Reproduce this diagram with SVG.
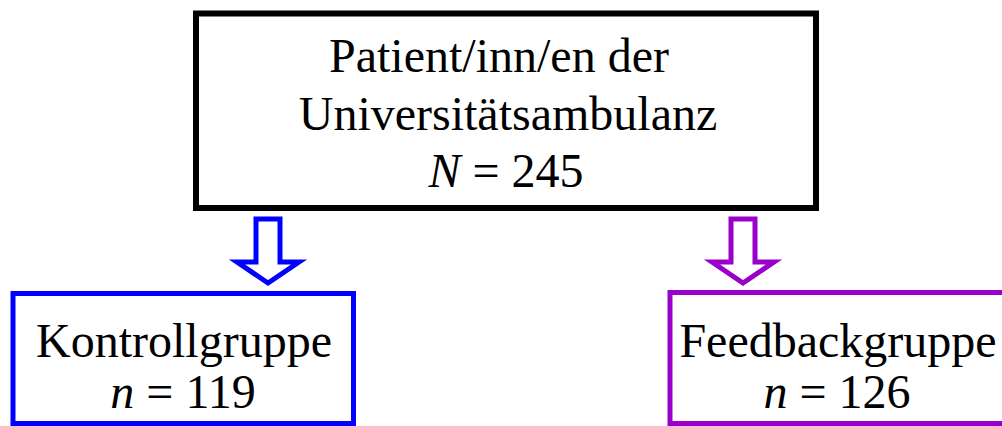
<svg xmlns="http://www.w3.org/2000/svg" width="1002" height="426" viewBox="0 0 1002 426">
<style>
.t{font-family:"Liberation Serif","Times New Roman",serif;font-size:48px;fill:#000;text-anchor:middle}
.i{font-style:italic}
.box{fill:#fff}
</style>
<rect width="1002" height="426" fill="#fff"/>
<g id="connectors">
<path d="M256,219 L280,219 L280,262 L299,262 L268,283 L237,262 L256,262 Z" fill="#fff" stroke="#0000ff" stroke-width="5" stroke-linejoin="miter"/>
<path d="M731,219 L755,219 L755,262 L774,262 L743,283 L712,262 L731,262 Z" fill="#fff" stroke="#9900cc" stroke-width="5" stroke-linejoin="miter"/>
</g>
<g id="node-patients">
<rect class="box" x="196" y="13.5" width="620" height="194.5" stroke="#000" stroke-width="6"/>
<text class="t" x="499" y="72">Patient/inn/en der</text>
<text class="t" x="508" y="130">Universitätsambulanz</text>
<text class="t" x="506" y="187"><tspan class="i">N</tspan> = 245</text>
</g>
<g id="node-kontroll">
<rect class="box" x="13" y="293.5" width="340.5" height="130" stroke="#0000ff" stroke-width="5"/>
<text class="t" x="184" y="357">Kontrollgruppe</text>
<text class="t" x="183" y="408"><tspan class="i">n</tspan> = 119</text>
</g>
<g id="node-feedback">
<rect class="box" x="670" y="292.5" width="340" height="131" stroke="#9900cc" stroke-width="5"/>
<text class="t" x="838" y="357">Feedbackgruppe</text>
<text class="t" x="837" y="408"><tspan class="i">n</tspan> = 126</text>
</g>
</svg>
